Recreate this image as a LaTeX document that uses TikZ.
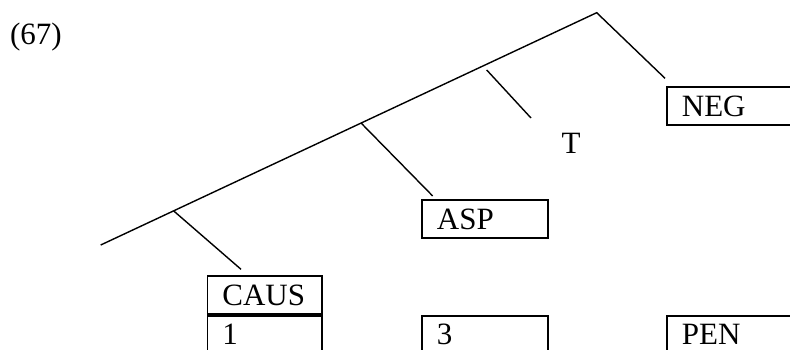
\documentclass[tikz,border=0pt]{standalone}
\usepackage{fontspec}
\setmainfont{Liberation Serif}
\usetikzlibrary{positioning}

\begin{document}
\begin{tikzpicture}[
    x=0.5pt, y=-0.5pt,
    node distance=38pt,
    box/.style={rectangle, draw, line width=0.9pt, anchor=north west, inner xsep=7.5pt, inner ysep=0pt, minimum height=19pt, align=left, font=\fontsize{15.5}{18}\selectfont},
    branch/.style={line width=0.7pt},
    label/.style={font=\fontsize{15.5}{18}\selectfont, inner sep=0pt}
]
    \clip (0,0) rectangle (790,349);

    \node[label] (ex) at (36,37.5) {(67)};

    % spine of the tree
    \coordinate (top) at (596.7,12.7);
    \coordinate (low) at (100.7,245);
    \path (top) -- (low) coordinate[pos=0.475] (jasp) coordinate[pos=0.853] (jcaus);

    % heads
    \node[box, text width=55pt] (neg) at (666,86) {NEG};
    \node[box, text width=48pt] (asp) at (421,199) {ASP};
    \node[box, text width=42.25pt] (caus) at (206.5,275) {CAUS};
    \node[box, text width=42.25pt, below=0pt of caus] (one) {1};
    \node[box, text width=48pt, below=of asp] (three) {3};
    \node[box, text width=55pt, below=94.5pt of neg] (pen) {PEN};
    \node[label] (t) at (571,143) {T};

    % branch ends
    \coordinate (negend) at (665,78.3);
    \coordinate (tstart) at (486.7,70);
    \coordinate (tend) at (531,118);
    \coordinate (aspend) at (432.7,196);
    \coordinate (causend) at (241,269.3);

    \draw[branch] (low) -- (top) -- (negend);
    \draw[branch] (tstart) -- (tend);
    \draw[branch] (jasp) -- (aspend);
    \draw[branch] (jcaus) -- (causend);
\end{tikzpicture}
\end{document}
